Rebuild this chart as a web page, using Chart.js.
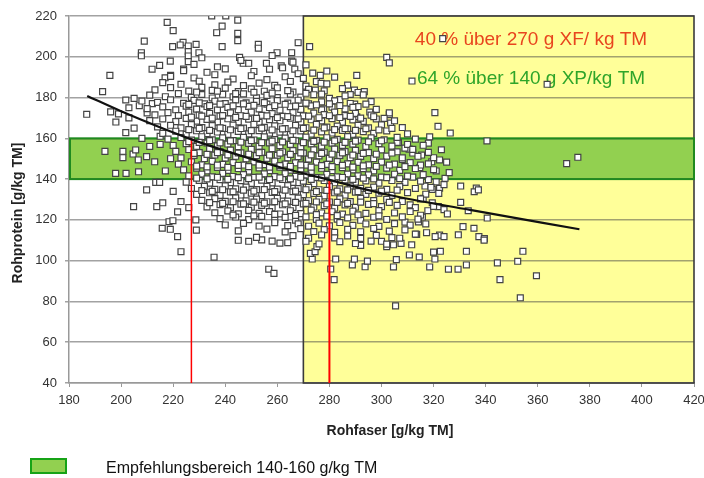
<!DOCTYPE html>
<html lang="de">
<head>
<meta charset="utf-8">
<title>Rohprotein / Rohfaser</title>
<script src="https://cdn.jsdelivr.net/npm/chart.js@4.4.1/dist/chart.umd.min.js"></script>
<style>
    html, body { margin: 0; padding: 0; background: #fff; }
    #chart { display: block; }
</style>
</head>
<body>
<canvas id="chart" width="704" height="478"></canvas>
<script>
// Einzelne, gut ablesbare Proben (Rohfaser, Rohprotein)
const ausreisser = [
    [234.8,220],[240.2,220],[217.7,216.9],[220,212.8],[238.8,215],[236.7,211.8],[208.9,207.7],[207.8,202],[207.8,200.5],
    [223.8,207.1],[222.7,205.8],[219.8,205],[225.8,205.3],[228.8,206.1],[225.8,202.5],[225.8,200.4],[225.8,197.6],[229.9,202],
    [238.8,205],[218.9,197.9],[214.8,195.8],[211.9,193.9],[224,194],[195.7,190.9],[192.9,182.9],[186.8,171.8],[201.8,178.8],
    [205,179.6],[216.9,189.7],[219,190.9],[203,175],[199,172],[207,176],[210,172.5],[212,177],
    [244.8,218],[244.8,211.5],[244.8,207.9],[252.7,206.1],[252.7,204.2],[268,206.9],[272.4,205],[259.9,202],[265.5,202],
    [265.5,197.9],[261.5,195.6],[255.8,196.8],[245.5,199.7],[246.9,196.8],[302,199.7],[303,197],[266.7,193.9],[273.6,192],
    [276.5,190.9],[275,187.8],[276.8,187],[274.6,183.7],[290.5,190.9],[289.6,183.7],[293.4,182.9],[289.7,176.8],[290.5,170.6],
    [277.8,174.5],[281,170.6],[295.5,172.9],[311.7,188.1],[323.5,208.9],[363.6,186.5],[284,179],[288,181.5],
    [193.8,153.6],[200.7,153.6],[200.7,150.5],[204.6,152.3],[206.6,149.4],[205.6,154.3],[197.9,142.8],[201.9,142.8],[206.7,143.6],
    [209.8,151],[212.9,148.5],[211,156],[215,157],[213.3,138.4],[214.8,138.4],[209.8,134.7],[204.8,126.5],[213.7,126.5],
    [216,128.4],[221.7,123.9],[218.4,119.1],[219.9,119.6],[215.8,115.9],[218.9,115.4],[228.7,120],[228.9,115],[221.7,111.8],
    [201.8,162.8],[205,165],[208,160],[198,168],[196,173],[203,170],[217,144],[219,150],[215,161],[220,134],[223,129],[226,126],
    [223,104.4],[235.7,101.7],[256.7,95.8],[258.7,93.8],[245,110],[249,109.5],[254,110.2],[258,109.6],[264,108.8],
    [280.5,95.9],[281.8,90.7],[282.4,100.8],[273.4,100.8],[272.7,103.6],[274.5,104.4],[275.2,106.9],[288.8,97.9],[289.6,100.8],
    [293.7,97],[294.6,99.8],[292,107.5],[300,109.5],[302,106.9],
    [303,171.6],[303.5,167.5],[320.5,172.6],[321.7,165.9],[326.4,162.6],[318.5,160.7],[340.5,158.7],[371.1,147.6],[375.4,150.7],
    [330.4,136.6],[336.4,135.6],[335.6,133.8],[337.2,134.7],[330.4,128.6],[333.3,124.5],[340.6,120.9],[331.3,116.7],[335.5,115.9],
    [329.5,112.7],[337.4,111.8],[339.5,110.8],[332.6,104.6],[354.3,104.6],[344.5,98.9],[352.3,99.7],[332.6,97.9],[329.4,95.8],
    [325.7,95.8],[345.5,90.7],[359.5,92.6],[353.3,81.8],[305.4,77.8],[318.5,96.9],[320.5,100.8],[314.5,101.8],[310.7,102.8],
    [304.6,96.9],[305.7,100.5],[320,104.2],[322.6,104.6],[322.3,112.5],[324,111.8],[320.6,111.8],[317.3,113.7],[313.5,112.9],
    [311.6,107.8],[307.5,108.5],[304.6,107.8],[339.4,110.1],
    [322.3,149.4],[324.4,140.4],[319.3,148.5],[315.4,151.8],[314.7,145.6],[310.6,154.7],[306.5,157.9],[322.3,135.5],[319.5,135],
    [316.7,136.6],[319.5,128.4],[321.8,126.5],[324,125],[325.3,122.9],[315.7,121.4],[314.2,119],[317.8,124.5],
    [306,158],[309,155.2],[312,152.8],[308,149.6],[315,146.9],[320,150.5],[323,154.4],[318,157.6],[321,144],[325,148.3],
    [326,143.2],[312,141],[318,139.8],[324,137.3],[322,133],[316,130.6],[311,127.4],[320,126.6],[315,122.3],[309,118.9],
    [317,118],[313,113],[307,111]
];

// dichter Kern, oberer Teil (ca. 180-200 g XP)
const kernOben = [
    [231,199.5],[246,198.2],[258,200.6],[266,197.4],
    [228,196.3],[237,195.1],[249,196.8],[262,194.6],[271,196.0],
    [224,193.2],[233,192.4],[240,194.1],[251,192.8],[257,193.9],[268,191.7],[279,193.0],
    [219,190.4],[228,189.6],[236,191.2],[243,189.1],[250,190.7],[256,188.8],[263,190.2],[270,189.4],[282,190.0],
    [216,187.3],[223,186.5],[230,188.0],[236,186.2],[241,187.6],[247,185.9],[253,187.1],[259,186.0],[265,187.9],[271,185.6],[279,186.7],[287,186.1],
    [213,183.8],[219,184.9],[226,183.2],[231,185.0],[235,183.5],[240,184.6],[245,182.9],[250,184.3],[255,183.1],[260,184.8],[266,182.7],[272,184.0],[278,183.3],[285,184.4],[291,182.5],
    [211,181.2],[217,180.4],[222,181.9],[227,180.1],[231,181.5],[235,179.8],[239,181.6],[243,180.3],[247,181.8],[252,179.9],[256,181.1],[260,180.0],[265,181.7],[269,180.2],[274,181.4],[280,179.6],[286,180.8],[293,181.3]
];

// dichter Kern, Mitte (ca. 140-180 g XP)
const kernMitte = [
    [208,178.3],[214,177.6],[219,178.9],[224,177.2],[228,178.6],[232,176.9],[236,178.2],[240,177.0],[244,178.8],[248,177.4],[252,178.1],[256,176.8],[260,178.5],[264,177.3],[268,178.7],[272,176.9],[277,177.9],[282,178.4],[288,177.1],[296,178.0],
    [210,174.6],[216,175.4],[221,174.0],[225,175.8],[229,174.3],[233,175.6],[237,173.9],[241,175.2],[245,174.1],[249,175.7],[253,174.4],[257,175.1],[261,173.8],[265,175.5],[269,174.2],[273,175.9],[277,174.0],[281,175.3],[286,174.5],[291,175.6],[298,174.2],
    [213,171.5],[218,172.6],[222,171.2],[226,172.9],[230,171.4],[234,172.3],[238,170.9],[242,172.5],[246,171.1],[250,172.8],[254,171.3],[258,172.1],[262,170.8],[266,172.6],[270,171.0],[274,172.4],[278,171.6],[282,172.9],[286,171.2],[290,172.2],[296,171.4],[303,172.5],
    [211,168.7],[216,169.5],[221,168.2],[225,169.8],[229,168.4],[233,169.3],[237,167.9],[241,169.6],[245,168.1],[249,169.4],[253,167.8],[257,169.2],[261,168.6],[265,169.9],[269,168.0],[273,169.1],[277,168.5],[281,169.7],[285,167.9],[289,169.0],[293,168.3],[298,169.5],[305,168.6],
    [214,165.6],[219,166.4],[223,165.1],[227,166.7],[231,165.3],[235,166.2],[239,164.9],[243,166.5],[247,165.0],[251,166.8],[255,165.4],[259,166.1],[263,164.8],[267,166.3],[271,165.2],[275,166.9],[279,165.5],[283,166.0],[287,164.7],[291,166.4],[295,165.1],[300,166.6],[308,165.3],
    [216,162.4],[221,163.5],[225,162.0],[229,163.7],[233,162.3],[237,163.1],[241,161.9],[245,163.4],[249,162.2],[253,163.8],[257,162.5],[261,163.0],[265,161.8],[269,163.6],[273,162.1],[277,163.2],[281,162.6],[285,163.9],[289,162.0],[293,163.3],[297,162.4],[302,163.6],[310,162.2],
    [218,159.6],[223,160.4],[227,159.1],[231,160.8],[235,159.3],[239,160.2],[243,158.9],[247,160.5],[251,159.2],[255,160.7],[259,159.4],[263,160.1],[267,158.8],[271,160.6],[275,159.0],[279,160.3],[283,159.5],[287,160.9],[291,159.1],[296,160.2],[301,159.3],[306,160.5],[313,159.6],
    [220,156.5],[225,157.4],[229,156.1],[233,157.7],[237,156.3],[241,157.2],[245,155.9],[249,157.5],[253,156.0],[257,157.8],[261,156.4],[265,157.0],[269,155.8],[273,157.3],[277,156.2],[281,157.6],[285,156.5],[289,157.1],[294,156.0],[299,157.4],[304,156.2],[310,157.0],[316,156.6],
    [221,153.6],[226,154.5],[230,153.0],[234,154.8],[238,153.4],[242,154.2],[246,152.9],[250,154.6],[254,153.1],[258,154.9],[262,153.3],[266,154.0],[270,152.8],[274,154.4],[278,153.2],[282,154.7],[286,153.5],[290,154.1],[295,153.0],[300,154.3],[306,153.4],[312,154.6],[318,153.1],
    [223,150.4],[228,151.6],[232,150.1],[236,151.8],[240,150.3],[244,151.2],[248,149.9],[252,151.5],[256,150.2],[260,151.7],[264,150.4],[268,151.0],[272,149.8],[276,151.4],[280,150.2],[284,151.6],[288,150.5],[292,151.1],[297,150.0],[302,151.3],[308,150.4],[314,151.2],
    [222,147.3],[227,148.5],[231,147.0],[235,148.7],[239,147.2],[243,148.1],[247,146.9],[251,148.4],[255,147.1],[259,148.8],[263,147.4],[267,148.0],[271,146.8],[275,148.3],[279,147.2],[283,148.6],[287,147.5],[291,148.2],[295,147.0],[300,148.3],[305,147.4],[311,148.1],[318,147.5],
    [224,144.5],[229,145.4],[233,144.0],[237,145.7],[241,144.3],[245,145.2],[249,143.9],[253,145.5],[257,144.1],[261,145.8],[265,144.4],[269,145.0],[273,143.8],[277,145.3],[281,144.2],[285,145.6],[289,144.5],[293,145.1],[297,144.0],[302,145.4],[307,144.3],[313,145.2],[320,144.6],
    [226,141.6],[231,142.4],[235,141.1],[239,142.8],[243,141.3],[247,142.2],[251,140.9],[255,142.6],[259,141.2],[263,142.7],[267,141.4],[271,142.0],[275,140.8],[279,142.3],[283,141.1],[287,142.5],[291,141.6],[295,142.1],[300,141.0],[305,142.4],[310,141.5],[316,142.2]
];

// dichter Kern, unterer Teil (ca. 105-140 g XP)
const kernUnten = [
    [225,138.5],[230,139.4],[234,138.0],[238,139.7],[242,138.3],[246,139.2],[250,137.9],[254,139.5],[258,138.1],[262,139.8],[266,138.4],[270,139.0],[274,137.8],[278,139.3],[282,138.2],[286,139.6],[290,138.5],[294,139.1],[299,138.0],[304,139.3],[309,138.4],[315,139.0],[321,138.6],
    [227,135.4],[232,136.5],[236,135.0],[240,136.7],[244,135.2],[248,136.1],[252,134.9],[256,136.4],[260,135.1],[264,136.8],[268,135.3],[272,136.0],[276,134.8],[280,136.3],[284,135.2],[288,136.6],[292,135.5],[297,136.1],[302,135.0],[307,136.3],[313,135.4],[319,136.0],
    [229,132.5],[234,133.3],[238,132.0],[242,133.7],[246,132.2],[250,133.1],[254,131.9],[258,133.5],[262,132.1],[266,133.8],[270,132.4],[274,133.0],[278,131.8],[282,133.3],[286,132.2],[290,133.6],[294,132.5],[299,133.1],[304,132.0],[310,133.4],[317,132.6],
    [231,129.6],[236,130.4],[240,129.1],[244,130.8],[248,129.3],[252,130.2],[256,128.9],[260,130.5],[264,129.2],[268,130.7],[272,129.4],[276,130.1],[280,128.8],[284,130.3],[288,129.0],[292,130.6],[297,129.5],[302,130.1],[308,129.0],[315,130.3],
    [233,126.4],[238,127.5],[242,126.0],[246,127.7],[250,126.2],[254,127.1],[258,125.9],[262,127.4],[266,126.1],[270,127.8],[274,126.3],[278,127.0],[282,125.8],[286,127.3],[290,126.2],[295,127.6],[300,126.5],[306,127.1],[313,126.0],
    [236,123.5],[241,124.4],[245,123.0],[249,124.7],[253,123.2],[257,124.1],[261,122.9],[265,124.5],[269,123.1],[273,124.8],[277,123.4],[281,124.0],[285,122.8],[289,124.3],[294,123.2],[299,124.6],[305,123.4],[311,124.1],
    [238,120.6],[244,121.4],[249,120.1],[254,121.7],[259,120.3],[263,121.2],[267,119.9],[271,121.5],[275,120.2],[279,121.8],[283,120.4],[287,121.0],[292,119.8],[297,121.3],[302,120.2],[308,121.5],[314,120.4],
    [240,117.5],[247,118.3],[253,117.0],[259,118.6],[264,117.2],[268,118.1],[272,116.9],[276,118.4],[280,117.1],[284,118.7],[289,117.3],[294,118.0],[299,116.8],[305,118.2],[311,117.4],
    [245,114.6],[256,115.5],[263,114.1],[269,115.7],[274,114.3],[278,115.2],[282,113.9],[287,115.4],[292,114.2],[297,115.8],[303,114.5],[309,115.1],
    [252,111.4],[266,112.3],[272,111.0],[277,112.6],[282,111.2],[287,112.1],[292,110.9],[298,112.4],[304,111.3],
    [261,108.6],[271,109.5],[276,108.2],[284,109.3],[290,108.4],[296,109.6],[302,108.1]
];

// zusätzliche Proben im dichtesten Bereich (überlappende Punkte)
const kernDicht = [
    [229,182.7],[237,183.1],[244,181.9],[251,182.6],[258,182.2],[264,183.4],[271,182.1],[277,181.7],
    [226,176.6],[230,177.4],[234,176.1],[238,176.8],[243,175.9],[247,176.9],[251,176.2],[255,177.5],[259,176.0],[263,176.7],[267,175.8],[271,177.3],[275,176.4],[280,176.9],[284,176.1],[289,175.2],[294,176.8],
    [227,170.4],[231,170.9],[235,169.9],[239,171.2],[244,170.3],[248,170.8],[252,169.8],[256,171.0],[260,170.2],[264,170.7],[268,169.6],[272,170.9],[276,170.1],[280,171.1],[284,170.2],[288,170.8],[292,169.9],[297,170.6],[301,169.8],
    [226,164.3],[230,164.9],[234,163.9],[238,165.1],[242,164.2],[246,164.8],[250,163.8],[254,165.0],[258,164.1],[262,164.6],[266,163.7],[270,164.9],[274,164.0],[278,165.1],[282,164.3],[286,164.8],[290,163.9],[294,164.7],[299,164.1],[304,164.9],
    [226,158.4],[230,158.0],[234,158.9],[238,157.8],[242,158.7],[246,158.1],[250,158.9],[254,157.9],[258,158.6],[262,158.2],[266,159.0],[270,157.9],[274,158.5],[278,158.1],[282,158.8],[286,158.0],[290,158.6],[295,158.3],[300,158.8],
    [228,152.6],[233,152.1],[237,153.0],[241,151.9],[245,152.8],[249,152.2],[253,153.0],[257,151.8],[261,152.7],[265,152.1],[269,152.9],[273,151.9],[277,152.6],[281,152.2],[285,152.9],[289,151.8],[293,152.6],[298,152.2],[304,152.8],
    [229,146.4],[233,146.0],[237,146.9],[241,145.8],[245,146.7],[249,146.1],[253,146.9],[257,145.9],[261,146.6],[265,146.2],[269,147.0],[273,145.9],[277,146.6],[281,146.1],[285,146.8],[289,145.9],[293,146.5],[298,146.2],[303,146.9],[309,146.1],
    [229,140.5],[233,140.1],[237,140.9],[241,139.9],[245,140.7],[249,140.2],[253,141.0],[257,139.8],[261,140.6],[265,140.1],[269,140.9],[273,139.9],[277,140.6],[281,140.2],[285,140.8],[289,139.9],[293,140.5],[297,140.1],[302,140.7],[307,140.2],
    [231,134.4],[235,134.0],[239,134.8],[243,133.8],[247,134.6],[251,134.1],[255,134.9],[259,133.9],[263,134.6],[267,134.1],[271,134.8],[275,133.9],[279,134.5],[283,134.1],[287,134.7],[291,133.9],[295,134.5],[300,134.1],[306,134.6],
    [234,128.5],[239,128.1],[243,128.9],[247,127.9],[251,128.7],[255,128.2],[259,128.9],[263,127.9],[267,128.6],[271,128.1],[275,128.8],[279,127.9],[283,128.6],[287,128.1],[292,128.7],[297,128.0],[303,128.6],
    [243,122.4],[251,122.0],[259,122.7],[267,122.2],[275,122.6],[283,122.1],[291,122.5],[299,122.0]
];

// Trendlinie
const trendX = [187, 200, 227, 241, 260, 280, 303, 334, 376];
const trendY = [180.8, 173.3, 159.5, 153.5, 146.2, 139.6, 132.2, 124.9, 115.4];

// rote Markierungen: Rohfaser bei 160 bzw. 140 g XP
const rotX = [227, 280];
const rotY = [160, 140];

const empfehlung = [140, 160];
const xfGrenze = 270;
const hinweise = ['40 % über 270 g XF/ kg TM', '64 % über 140 g XP/kg TM'];
const legendeText = 'Empfehlungsbereich 140-160 g/kg TM';

const FONT = '"Liberation Sans", Arial, sans-serif';
const GELB = '#FFFF99';
const GRUEN = '#92D050';
const GRUEN_RAND = '#1F8A1F';

const toPoints = arr => arr.map(([x, y]) => ({ x: x, y: y }));

const bereiche = {
    id: 'bereiche',
    beforeDraw(chart) {
        const { ctx, scales: { x, y } } = chart;
        ctx.save();
        // gelber Bereich über 270 g XF
        ctx.fillStyle = GELB;
        ctx.fillRect(x.getPixelForValue(xfGrenze), y.top, x.right - x.getPixelForValue(xfGrenze), y.bottom - y.top);
        // grünes Band 140-160 g XP
        const y1 = y.getPixelForValue(empfehlung[1]);
        const y0 = y.getPixelForValue(empfehlung[0]);
        ctx.fillStyle = GRUEN;
        ctx.fillRect(x.left, y1, x.right - x.left, y0 - y1);
        ctx.restore();
    },
    beforeDatasetsDraw(chart) {
        const { ctx, scales: { x, y } } = chart;
        ctx.save();
        const xg = x.getPixelForValue(xfGrenze);
        ctx.strokeStyle = '#3a3a3a';
        ctx.lineWidth = 1.6;
        ctx.strokeRect(xg, y.top, x.right - xg, y.bottom - y.top);
        const y1 = y.getPixelForValue(empfehlung[1]);
        const y0 = y.getPixelForValue(empfehlung[0]);
        ctx.strokeStyle = GRUEN_RAND;
        ctx.lineWidth = 2;
        ctx.strokeRect(x.left + 1, y1, x.right - x.left - 1, y0 - y1);

        ctx.font = '19px ' + FONT;
        ctx.textAlign = 'center';
        ctx.textBaseline = 'alphabetic';
        ctx.fillStyle = '#E8451E';
        ctx.fillText(hinweise[0], 531, 45);
        ctx.fillStyle = '#2FA52A';
        ctx.fillText(hinweise[1], 531, 84);
        ctx.restore();
    },
    afterDraw(chart) {
        const { ctx } = chart;
        ctx.save();
        ctx.fillStyle = '#222';
        ctx.font = 'bold 14px ' + FONT;
        ctx.textAlign = 'center';
        ctx.textBaseline = 'middle';
        ctx.fillText('Rohfaser [g/kg TM]', 390, 431);
        ctx.translate(18, 213);
        ctx.rotate(-Math.PI / 2);
        ctx.fillText('Rohprotein [g/kg TM]', 0, 0);
        ctx.restore();

        // Legende
        ctx.save();
        ctx.fillStyle = GRUEN;
        ctx.fillRect(31, 459, 35, 14);
        ctx.strokeStyle = '#17A317';
        ctx.lineWidth = 2;
        ctx.strokeRect(31, 459, 35, 14);
        ctx.fillStyle = '#111';
        ctx.font = '16px ' + FONT;
        ctx.textAlign = 'left';
        ctx.textBaseline = 'alphabetic';
        ctx.fillText(legendeText, 106, 473);
        ctx.restore();
    }
};

const datasets = [
    {
        type: 'line',
        label: 'Trend',
        data: trendX.map((v, i) => ({ x: v, y: trendY[i] })),
        borderColor: '#111',
        borderWidth: 2.2,
        pointRadius: 0,
        showLine: true,
        cubicInterpolationMode: 'monotone',
        order: 0
    }
];
rotX.forEach((v, i) => {
    datasets.push({
        type: 'line',
        label: 'Marke ' + v,
        data: [{ x: v, y: 40 }, { x: v, y: rotY[i] }],
        borderColor: '#FF0000',
        borderWidth: i === 0 ? 1.5 : 2,
        pointRadius: 0,
        showLine: true,
        order: 0
    });
});
datasets.push({
    label: 'Proben',
    data: toPoints([...ausreisser, ...kernOben, ...kernMitte, ...kernUnten, ...kernDicht]),
    pointStyle: 'rect',
    pointRadius: 4.2,
    backgroundColor: '#ffffff',
    borderColor: '#444',
    borderWidth: 1.2,
    order: 1
});

new Chart(document.getElementById('chart'), {
    type: 'scatter',
    data: { datasets: datasets },
    options: {
        responsive: false,
        animation: false,
        devicePixelRatio: 1,
        layout: { padding: { top: 16, right: 0, left: 0, bottom: 0 } },
        plugins: {
            legend: { display: false },
            tooltip: { enabled: false }
        },
        scales: {
            x: {
                type: 'linear',
                min: 180,
                max: 420,
                afterFit: s => { s.height = 95; s.paddingRight = 10; },
                ticks: { stepSize: 20, color: '#333', padding: 6, font: { family: FONT, size: 13 } },
                grid: { drawOnChartArea: false, drawTicks: true, tickLength: 4, color: '#999' },
                border: { color: '#999', width: 1.5 }
            },
            y: {
                min: 40,
                max: 220,
                afterFit: s => { s.width = 69; },
                ticks: { stepSize: 20, color: '#333', padding: 8, font: { family: FONT, size: 13 } },
                grid: { color: 'rgba(70,70,70,0.5)', lineWidth: 1.5, tickLength: 4 },
                border: { color: '#999', width: 1.5 }
            }
        }
    },
    plugins: [bereiche]
});
</script>
</body>
</html>
